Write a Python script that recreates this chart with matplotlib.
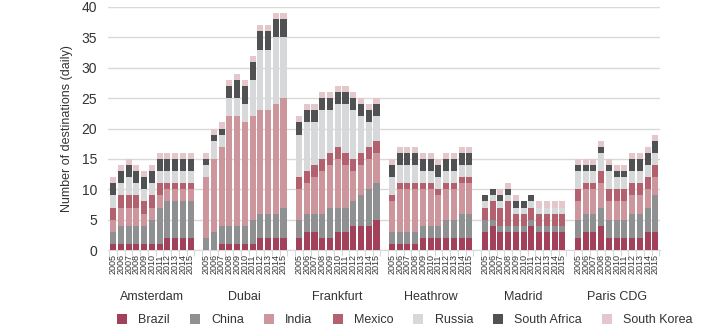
import numpy as np
import matplotlib.pyplot as plt

airports = ["Amsterdam", "Dubai", "Frankfurt", "Heathrow", "Madrid", "Paris CDG"]
years = [str(y) for y in range(2005, 2016)]
countries = ["Brazil", "China", "India", "Mexico", "Russia", "South Africa", "South Korea"]
colors = ["#a3405a", "#8e9092", "#cd969c", "#b3616f", "#d6d8d9", "#4f5152", "#e4c7ca"]

# daily destinations, one row per airport (2005..2015)
brazil = [1, 1, 1, 1, 1, 1, 1, 2, 2, 2, 2,
          0, 0, 1, 1, 1, 1, 1, 2, 2, 2, 2,
          2, 3, 3, 2, 2, 3, 3, 4, 4, 4, 5,
          1, 1, 1, 1, 2, 2, 2, 2, 2, 2, 2,
          3, 4, 3, 3, 3, 3, 4, 3, 3, 3, 3,
          2, 3, 3, 4, 2, 2, 2, 2, 2, 3, 3]
china = [2, 3, 3, 3, 3, 4, 6, 6, 6, 6, 6,
         2, 3, 3, 3, 3, 3, 4, 4, 4, 4, 5,
         3, 3, 3, 4, 5, 4, 4, 4, 5, 6, 6,
         2, 2, 2, 2, 2, 2, 2, 3, 3, 4, 4,
         2, 1, 1, 1, 1, 1, 1, 1, 1, 1, 1,
         3, 3, 3, 3, 3, 3, 3, 4, 4, 4, 6]
india = [2, 3, 3, 3, 2, 2, 2, 2, 2, 2, 2,
         10, 12, 13, 18, 18, 17, 17, 17, 17, 18, 18,
         5, 5, 6, 7, 7, 8, 7, 5, 5, 5, 5,
         5, 7, 7, 7, 6, 6, 5, 5, 5, 5, 5,
         0, 0, 0, 0, 0, 0, 0, 0, 0, 0, 0,
         3, 4, 4, 4, 3, 3, 3, 3, 3, 3, 3]
mexico = [2, 2, 2, 2, 2, 2, 2, 1, 1, 1, 1,
          0, 0, 0, 0, 0, 0, 0, 0, 0, 0, 0,
          2, 2, 2, 2, 2, 2, 2, 2, 2, 2, 2,
          1, 1, 1, 1, 1, 1, 1, 1, 1, 1, 1,
          2, 3, 3, 4, 2, 2, 2, 2, 2, 2, 2,
          2, 1, 1, 2, 2, 2, 2, 2, 2, 2, 2]
russia = [2, 2, 3, 2, 2, 2, 2, 2, 2, 2, 2,
          2, 3, 2, 3, 3, 3, 6, 10, 10, 11, 10,
          7, 8, 7, 8, 7, 7, 8, 8, 6, 4, 4,
          3, 3, 3, 3, 2, 2, 2, 2, 2, 2, 2,
          1, 1, 1, 1, 1, 1, 1, 1, 1, 1, 1,
          3, 2, 2, 3, 3, 2, 2, 2, 2, 2, 2]
south_africa = [2, 2, 2, 2, 2, 2, 2, 2, 2, 2, 2,
                1, 1, 1, 2, 3, 3, 3, 3, 3, 3, 3,
                2, 2, 2, 2, 2, 2, 2, 2, 2, 2, 2,
                2, 2, 2, 2, 2, 2, 2, 2, 2, 2, 2,
                1, 1, 1, 1, 1, 1, 1, 0, 0, 0, 0,
                1, 1, 1, 1, 1, 1, 1, 2, 2, 2, 2]
south_korea = [1, 1, 1, 1, 1, 1, 1, 1, 1, 1, 1,
               1, 1, 1, 1, 1, 1, 1, 1, 1, 1, 1,
               1, 1, 1, 1, 1, 1, 1, 1, 1, 1, 1,
               1, 1, 1, 1, 1, 1, 1, 1, 1, 1, 1,
               0, 0, 1, 1, 1, 0, 0, 1, 1, 1, 1,
               1, 1, 1, 1, 1, 1, 1, 1, 1, 1, 1]

series = [brazil, china, india, mexico, russia, south_africa, south_korea]

plt.rcParams["font.family"] = ["Liberation Sans", "DejaVu Sans"]
txt = "#333333"

fig = plt.figure(figsize=(7.2, 3.33), dpi=100)
ax = fig.add_axes([0.1506, 0.249, 0.7661, 0.730])

n_years = len(years)
slot = n_years + 1
x = np.array([g * slot + j for g in range(len(airports)) for j in range(n_years)])

bottom = np.zeros(len(x))
for name, vals, c in zip(countries, series, colors):
    vals = np.array(vals)
    ax.bar(x, vals, width=0.78, bottom=bottom, color=c, label=name, linewidth=0, zorder=3)
    bottom += vals

ax.set_xlim(-0.6, x[-1] + 0.6)
ax.set_ylim(0, 40)
ax.set_yticks(range(0, 41, 5))
ax.tick_params(axis="y", length=0, pad=8, labelsize=10, labelcolor=txt)
ax.yaxis.grid(True, color="#d9d9d9", linewidth=1, zorder=0)
ax.set_ylabel("Number of destinations (daily)", fontsize=9, color=txt, labelpad=6)

for s in ["top", "right", "left"]:
    ax.spines[s].set_visible(False)
ax.spines["bottom"].set_color("#d9d9d9")

ax.set_xticks(x)
ax.set_xticklabels(years * len(airports), rotation=90, fontsize=6.5, color=txt)
ax.tick_params(axis="x", length=0, pad=3)
edges = [g * slot + j - 0.5 for g in range(len(airports)) for j in range(n_years + 1)]
ax.set_xticks(edges, minor=True)
ax.tick_params(axis="x", which="minor", length=4, color="#d0d0d0", direction="out")

for g, name in enumerate(airports):
    xc = g * slot + (n_years - 1) / 2
    ax.text(xc, -0.195, name, transform=ax.get_xaxis_transform(), ha="center", va="center",
            fontsize=9, color=txt)

fig.legend(loc="center", bbox_to_anchor=(0.5625, 0.039), ncol=7, frameon=False,
           fontsize=9, handlelength=0.8, handleheight=0.8, handletextpad=0.9,
           columnspacing=1.6, labelcolor=txt)

fig.savefig("out.png", dpi=100)
